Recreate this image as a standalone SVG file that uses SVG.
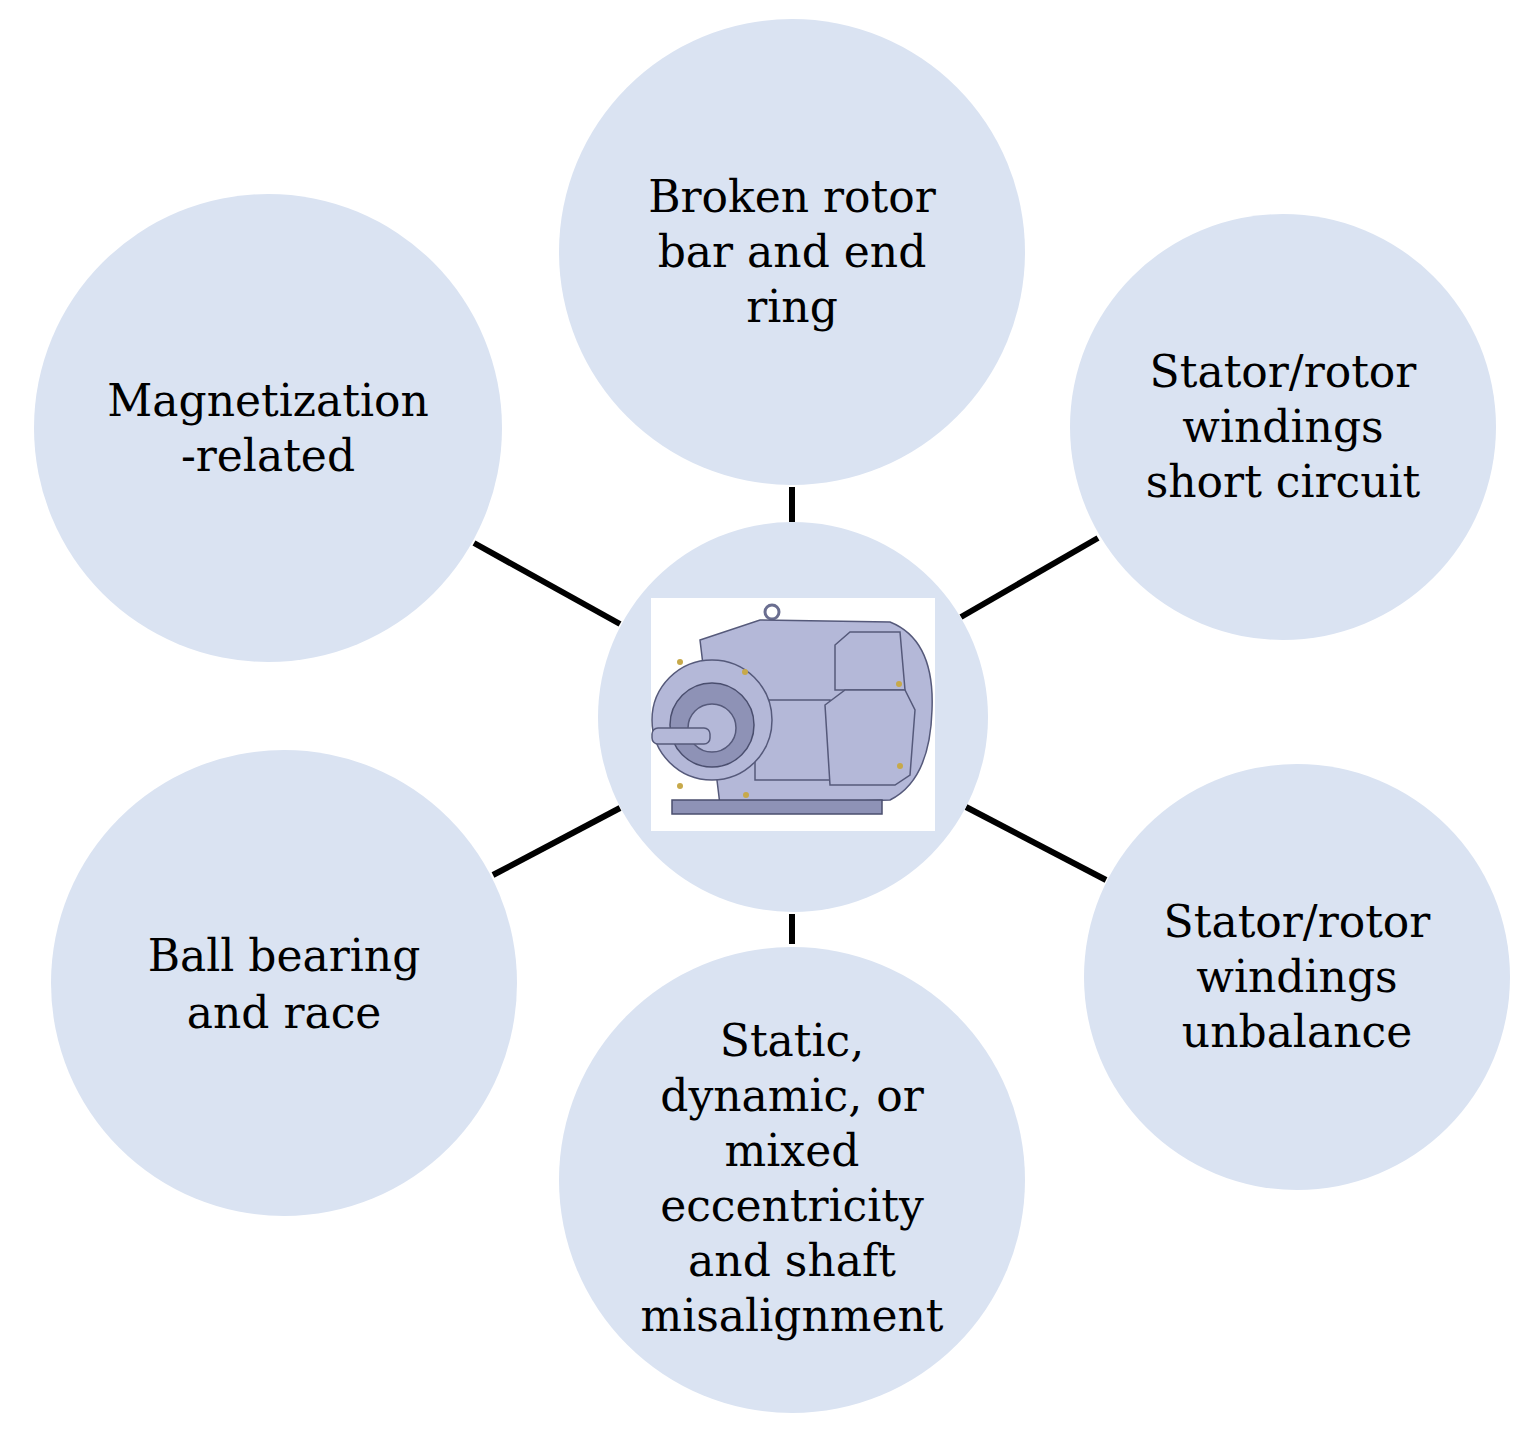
<svg xmlns="http://www.w3.org/2000/svg" width="1539" height="1440" viewBox="0 0 1539 1440">
<style>
.n{fill:#dae3f2}
.t{font-family:"DejaVu Serif","Liberation Serif",serif;font-size:44px;fill:#000;text-anchor:middle}
.c{stroke:#000;stroke-width:6}
.m{fill:#b4b8d8;stroke:#55597a;stroke-width:1.5}
.d{fill:#8e92b6;stroke:#4a4e6e;stroke-width:1.5}
</style>
<rect width="1539" height="1440" fill="#fff"/>
<g id="connectors">
<line class="c" x1="792" y1="487" x2="792" y2="522"/>
<line class="c" x1="474" y1="543" x2="620" y2="624"/>
<line class="c" x1="1098" y1="538" x2="961" y2="617"/>
<line class="c" x1="493" y1="875" x2="620" y2="808"/>
<line class="c" x1="966" y1="807" x2="1106" y2="880"/>
<line class="c" x1="792" y1="914" x2="792" y2="944"/>
</g>
<g id="n-top"><circle class="n" cx="792" cy="252" r="233"/>
<text class="t" x="792" y="212">Broken rotor</text><text class="t" x="792" y="267">bar and end</text><text class="t" x="792" y="322">ring</text></g>
<g id="n-mag"><circle class="n" cx="268" cy="428" r="234"/>
<text class="t" x="268" y="416">Magnetization</text><text class="t" x="268" y="471">-related</text></g>
<g id="n-short"><circle class="n" cx="1283" cy="427" r="213"/>
<text class="t" x="1283" y="387">Stator/rotor</text><text class="t" x="1283" y="442">windings</text><text class="t" x="1283" y="497">short circuit</text></g>
<g id="n-ball"><circle class="n" cx="284" cy="983" r="233"/>
<text class="t" x="284" y="971">Ball bearing</text><text class="t" x="284" y="1028">and race</text></g>
<g id="n-ecc"><circle class="n" cx="792" cy="1180" r="233"/>
<text class="t" x="792" y="1056">Static,</text><text class="t" x="792" y="1111">dynamic, or</text><text class="t" x="792" y="1166">mixed</text><text class="t" x="792" y="1221">eccentricity</text><text class="t" x="792" y="1276">and shaft</text><text class="t" x="792" y="1331">misalignment</text></g>
<g id="n-unbal"><circle class="n" cx="1297" cy="977" r="213"/>
<text class="t" x="1297" y="937">Stator/rotor</text><text class="t" x="1297" y="992">windings</text><text class="t" x="1297" y="1047">unbalance</text></g>
<g id="n-center"><circle class="n" cx="793" cy="717" r="195"/>
<rect x="651" y="598" width="284" height="233" fill="#fff"/>
<circle cx="772" cy="612" r="7" fill="none" stroke="#6a6e90" stroke-width="3"/>
<path class="m" d="M700 640 L760 620 L890 622 Q935 640 932 710 Q930 780 890 800 L720 805 Z"/>
<rect class="m" x="755" y="700" width="75" height="80"/>
<path class="m" d="M835 645 L850 632 L900 632 L905 690 L835 690 Z"/>
<path class="m" d="M825 705 L845 690 L905 690 L915 710 L910 775 L895 785 L830 785 Z"/>
<rect class="d" x="672" y="800" width="210" height="14"/>
<circle class="m" cx="712" cy="720" r="60"/>
<circle class="d" cx="712" cy="725" r="42"/>
<circle class="m" cx="712" cy="728" r="24"/>
<rect class="m" x="652" y="728" width="58" height="16" rx="6"/>
<g fill="#c7a94a"><circle cx="680" cy="662" r="3"/><circle cx="745" cy="672" r="3"/><circle cx="680" cy="786" r="3"/><circle cx="746" cy="795" r="3"/><circle cx="899" cy="684" r="3"/><circle cx="900" cy="766" r="3"/></g>
</g>
</svg>
